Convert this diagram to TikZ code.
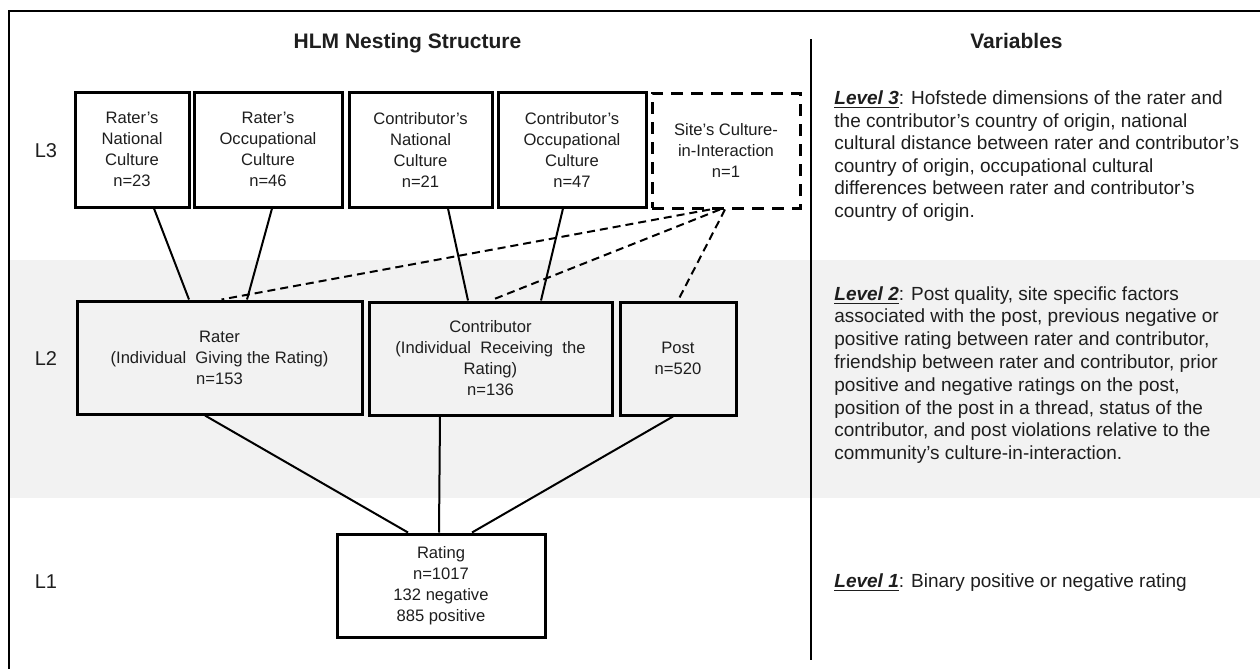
\documentclass[tikz,border=0pt]{standalone}
\usepackage{fontspec}
\setmainfont{Liberation Sans}
\definecolor{bandgray}{HTML}{F2F2F2}
\definecolor{inkgray}{HTML}{1E1E1E}
\begin{document}
\begin{tikzpicture}[x=0.5pt,y=-0.5pt,
  boxtext/.style={font=\fontsize{8.3}{10.5}\selectfont, align=center, inner sep=0pt, text=inkgray},
  solidbox/.style={boxtext, draw, line width=1.5pt},
  dashbox/.style={boxtext, draw, line width=1.5pt, dash pattern=on 6pt off 4pt},
  link/.style={line width=1pt},
  dlink/.style={line width=1pt, dash pattern=on 4pt off 2.5pt},
  lvl/.style={font=\fontsize{10}{12}\selectfont, anchor=base, inner sep=0pt, text=inkgray},
  heading/.style={font=\bfseries\fontsize{10.5}{12}\selectfont, anchor=base, inner sep=0pt, text=inkgray},
  vartext/.style={anchor=base west, inner sep=0pt, text=inkgray}
]
\useasboundingbox (0,0) rectangle (1260,669);
\fill[white] (0,0) rectangle (1260,669);
% gray band
\fill[bandgray] (10,260) rectangle (1260,498);
% frame
\draw[line width=1pt] (1260,11) -- (9,11) -- (9,669);
% divider
\coordinate (dtop) at (811,39);
\coordinate (dbot) at (811,660);
\draw[line width=0.8pt] (dtop) -- (dbot);

% headings
\node[heading] (h1) at (407.5,48) {HLM Nesting Structure};
\node[heading] (h2) at (1016.5,48) {Variables};

% level labels
\node[lvl] (l3) at (46,157) {L3};
\node[lvl] (l2) at (46,365) {L2};
\node[lvl] (l1) at (46,588) {L1};

% L3 boxes
\node[solidbox, fill=white, minimum width=57pt, minimum height=57.5pt] (b1) at (132,149.5) {Rater's\\National\\Culture\\n=23};
\node[solidbox, fill=white, minimum width=74pt, minimum height=57.5pt] (b2) at (268,149.5) {Rater's\\Occupational\\Culture\\n=46};
\node[solidbox, fill=white, minimum width=71.5pt, minimum height=57.5pt] (b3) at (420.5,149.5) {Contributor's\\National\\Culture\\n=21};
\node[solidbox, fill=white, minimum width=74pt, minimum height=57.5pt] (b4) at (572,149.5) {Contributor's\\Occupational\\Culture\\n=47};
\node[dashbox, fill=white, minimum width=74pt, minimum height=57.5pt] (site) at (726,150.5) {Site's Culture-\\in-Interaction\\n=1};

% L2 boxes
\node[solidbox, minimum width=142.5pt, minimum height=56.5pt] (rater) at (219.5,357.5) {Rater\\(Individual~ Giving the Rating)\\n=153};
\node[solidbox, minimum width=121.5pt, minimum height=56.5pt] (contrib) at (490.5,358.5) {Contributor\\(Individual~ Receiving~ the\\Rating)\\n=136};
\node[solidbox, minimum width=58pt, minimum height=56.5pt] (post) at (678,358.5) {Post\\n=520};

% L1 box
\node[solidbox, fill=white, minimum width=104pt, minimum height=51.5pt] (rating) at (441,585.5) {Rating\\n=1017\\132 negative\\885 positive};

% L3 -> L2 solid links
\draw[link] ([xshift=11pt]b1.south) -- ([xshift=-15.25pt]rater.north);
\draw[link] ([xshift=2pt]b2.south) -- ([xshift=13.75pt]rater.north);
\draw[link] ([xshift=13.75pt]b3.south) -- ([xshift=-11.25pt]contrib.north);
\draw[link] ([xshift=-4.5pt]b4.south) -- ([xshift=25.25pt]contrib.north);
% dashed links from site
\draw[dlink] ([xshift=-8pt]site.south) -- ([xshift=1pt]rater.north);
\draw[dlink] ([xshift=-3pt]site.south) -- (contrib.north);
\draw[dlink] ([xshift=-0.5pt]site.south) -- (post.north);
% L2 -> L1
\draw[link] ([xshift=-7.25pt]rater.south) -- ([xshift=-16.5pt]rating.north);
\draw[link] ([xshift=-25.25pt]contrib.south) -- ([xshift=-1pt]rating.north);
\draw[link] ([xshift=-2.5pt]post.south) -- ([xshift=15.5pt]rating.north);

% variable texts
\node[vartext] (v3) at (834,104.5) {\parbox[t]{212pt}{\fontsize{9.5}{11.3}\selectfont\raggedright
\underline{\textbf{\textit{Level 3}}}: Hofstede dimensions of the rater and\\
the contributor's country of origin, national\\
cultural distance between rater and contributor's\\
country of origin, occupational cultural\\
differences between rater and contributor's\\
country of origin.}};
\node[vartext] (v2) at (834,300) {\parbox[t]{212pt}{\fontsize{9.5}{11.4}\selectfont\raggedright
\underline{\textbf{\textit{Level 2}}}: Post quality, site specific factors\\
associated with the post, previous negative or\\
positive rating between rater and contributor,\\
friendship between rater and contributor, prior\\
positive and negative ratings on the post,\\
position of the post in a thread, status of the\\
contributor, and post violations relative to the\\
community's culture-in-interaction.}};
\node[vartext] (v1) at (834,587) {\fontsize{9.5}{11.4}\selectfont\underline{\textbf{\textit{Level 1}}}: Binary positive or negative rating};
\end{tikzpicture}
\end{document}
